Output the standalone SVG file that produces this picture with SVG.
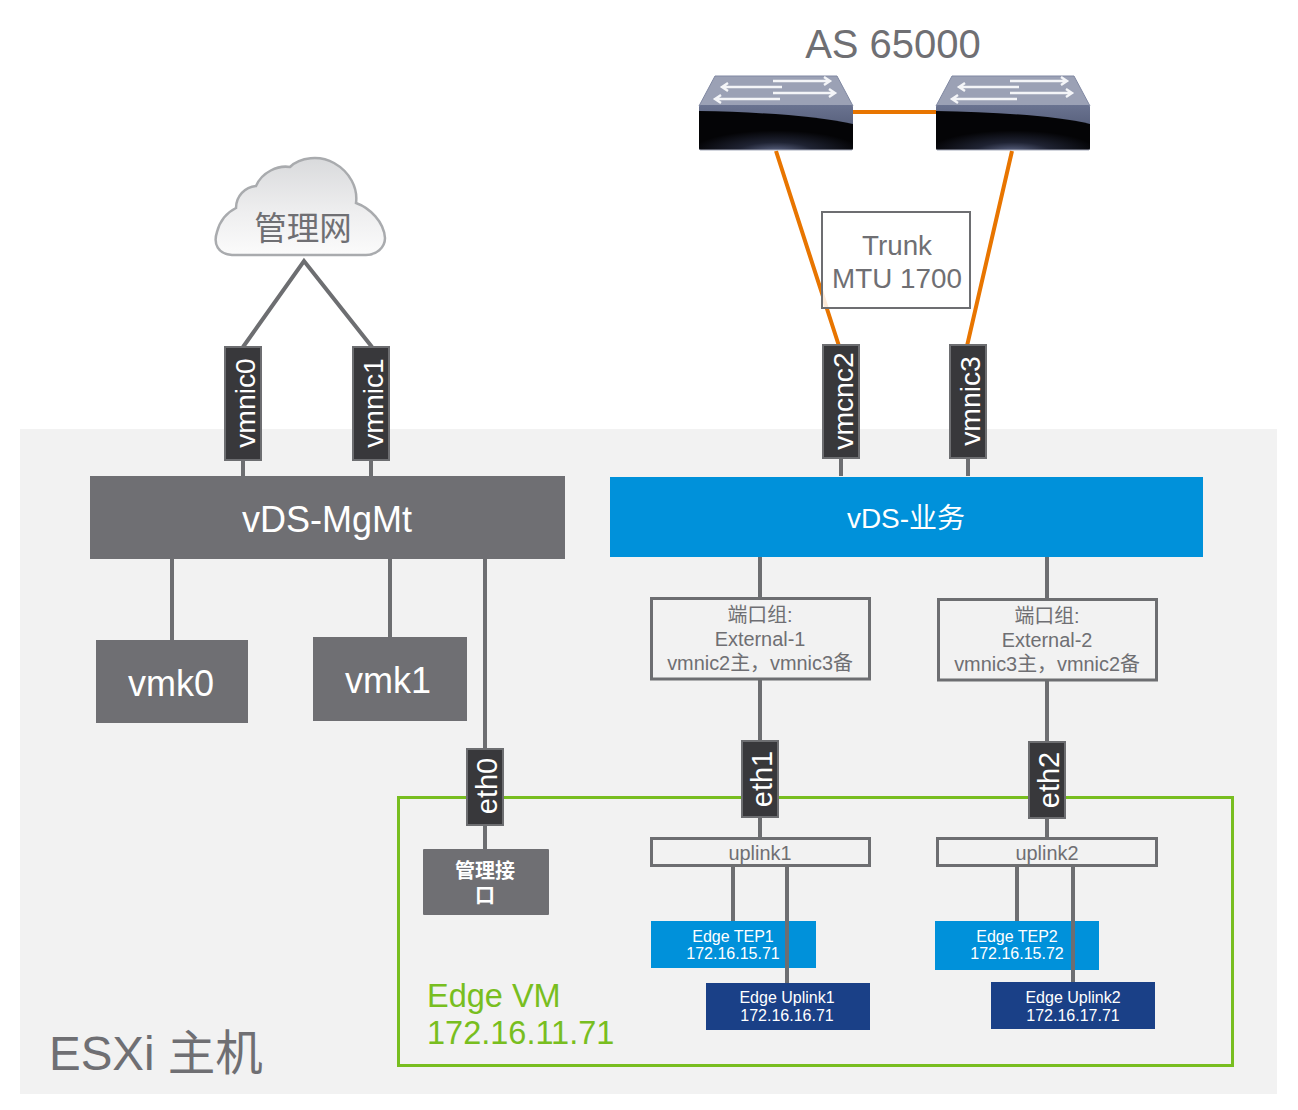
<svg xmlns="http://www.w3.org/2000/svg" width="1298" height="1110" viewBox="0 0 1298 1110">
<style>
text{font-family:"Liberation Sans","Noto Sans CJK SC",sans-serif;text-anchor:middle}
.g{fill:#6f6f73}.w{fill:#fff}
.c{stroke:#6d6e71;stroke-width:4;fill:none}
.o{stroke:#e87500;stroke-width:4;fill:none}
.pg{fill:#f2f2f2;stroke:#6d6e71;stroke-width:3}
.nic{fill:#38383b;stroke:#6d6e71;stroke-width:2}
.v{fill:#fff;font-size:28.300px}
.e{fill:#fff;font-size:29px}
.s{fill:#fff;font-size:16px}
.p{fill:#6f6f73;font-size:19.9px}
</style>
<defs>
<linearGradient id="sw" x1="0" y1="0" x2="0" y2="1"><stop offset="0" stop-color="#6a7390"/><stop offset="1" stop-color="#454d68"/></linearGradient>
<radialGradient id="glow" cx=".5" cy="1.050" r=".55"><stop offset="0" stop-color="#5f6888"/><stop offset=".45" stop-color="#1f2333"/><stop offset="1" stop-color="#040406"/></radialGradient>
<linearGradient id="cl" x1="0" y1="0" x2="0" y2="1"><stop offset="0" stop-color="#d9dadc"/><stop offset=".55" stop-color="#eeeeef"/><stop offset="1" stop-color="#fbfbfb"/></linearGradient>
<g id="switch">
<path d="M16 0H138L154 30H0Z" fill="#9ba1b5" stroke="#8088a2"/>
<rect x="0" y="29" width="154" height="45" rx="2" fill="url(#sw)"/>
<path d="M0 35C60 36 120 40 154 48V72Q154 74 152 74H2Q0 74 0 72Z" fill="url(#glow)"/>
<path d="M1 74H153" stroke="#a6abbb" stroke-width="1"/>
<path d="M74 5H131M125 1L131 5L125 9M83 11H23M29 7L23 11L29 15M74 17H136M130 13L136 17L130 21M81 23H16M22 19L16 23L22 27" fill="none" stroke="#f4f5f8" stroke-width="2.4"/>
</g>
</defs>
<rect width="1298" height="1110" fill="#fff"/>
<rect id="esxi" x="20" y="429" width="1257" height="665" fill="#f2f2f2"/>
<g id="connectors">
<path class="c" d="M243 347L304 261L372 347M243 460V476M371 460V476M841 458V476M968 458V476M172 558V640M390 558V637M485 558V750M485 824V850M760 557V598M760 680V742M760 816V838M1047 557V599M1047 681V742M1047 818V838M733 866V921M787 866V983M1017 866V921M1073 866V982"/>
<path class="o" d="M853 112H936M776 151L839 346M1012 151L967 346"/>
</g>
<text x="893" y="58" class="g" style="font-size:40px">AS 65000</text>
<g id="switch1"><use href="#switch" x="699" y="76"/></g>
<g id="switch2"><use href="#switch" x="936" y="76"/></g>
<g id="cloud">
<path d="M232 255C218 254 213 244 217 232C220 220 228 212 236 208C236 196 245 187 256 186C262 172 278 165 290 167C300 157 320 155 334 163C350 172 358 188 356 203C370 208 384 222 385 238C385 248 376 255 366 255Z" fill="url(#cl)" stroke="#a9abae" stroke-width="2.5"/>
<text x="303" y="240" class="g" style="font-size:32.500px">管理网</text>
</g>
<g id="trunk">
<rect x="822" y="212" width="148" height="96" fill="#fff" fill-opacity=".85" stroke="#6d6e71" stroke-width="2"/>
<text x="897" y="255" class="g" style="font-size:27.800px">Trunk</text>
<text x="897" y="288" class="g" style="font-size:27.800px">MTU 1700</text>
</g>
<g id="vmnic0"><rect class="nic" x="225" y="347" width="36" height="113"/><text class="v" transform="translate(255 403) rotate(-90)">vmnic0</text></g>
<g id="vmnic1"><rect class="nic" x="353" y="347" width="36" height="113"/><text class="v" transform="translate(383 403) rotate(-90)">vmnic1</text></g>
<g id="vmcnc2"><rect class="nic" x="823" y="345" width="36" height="113"/><text class="v" transform="translate(853 401) rotate(-90)">vmcnc2</text></g>
<g id="vmnic3"><rect class="nic" x="950" y="345" width="36" height="113"/><text class="v" transform="translate(980 401) rotate(-90)">vmnic3</text></g>
<g id="vds-mgmt"><rect x="90" y="476" width="475" height="83" fill="#6f6f73"/><text x="327" y="532" class="w" style="font-size:36px">vDS-MgMt</text></g>
<g id="vds-biz"><rect x="610" y="477" width="593" height="80" fill="#0091da"/><text x="906" y="528" class="w" style="font-size:28px">vDS-业务</text></g>
<g id="vmk0"><rect x="96" y="640" width="152" height="83" fill="#6f6f73"/><text x="171" y="696" class="w" style="font-size:36px">vmk0</text></g>
<g id="vmk1"><rect x="313" y="637" width="154" height="84" fill="#6f6f73"/><text x="388" y="693" class="w" style="font-size:36px">vmk1</text></g>
<g id="pg1"><rect class="pg" x="651.500" y="598.500" width="218" height="80.500"/>
<text x="760" y="622" class="p">端口组:</text><text x="760" y="646" class="p">External-1</text><text x="760" y="670" class="p">vmnic2主，vmnic3备</text></g>
<g id="pg2"><rect class="pg" x="938.500" y="599.500" width="218" height="80.500"/>
<text x="1047" y="623" class="p">端口组:</text><text x="1047" y="647" class="p">External-2</text><text x="1047" y="671" class="p">vmnic3主，vmnic2备</text></g>
<rect id="edge-vm" x="398.500" y="797.500" width="834" height="268" fill="none" stroke="#78be20" stroke-width="3"/>
<g id="eth0"><rect class="nic" x="467" y="749" width="36" height="76"/><text class="e" transform="translate(497 786) rotate(-90)">eth0</text></g>
<g id="eth1"><rect class="nic" x="742" y="741" width="36" height="76"/><text class="e" transform="translate(772 779) rotate(-90)">eth1</text></g>
<g id="eth2"><rect class="nic" x="1029" y="742" width="36" height="76"/><text class="e" transform="translate(1059 780) rotate(-90)">eth2</text></g>
<g id="mgmt-if"><rect x="423" y="849" width="126" height="66" rx="1" fill="#6f6f73"/>
<text x="485" y="878" class="w" style="font-size:20px;font-weight:bold">管理接</text><text x="485" y="903" class="w" style="font-size:20px;font-weight:bold">口</text></g>
<g id="uplink1"><rect class="pg" x="651.500" y="838.500" width="218" height="27"/><text x="760" y="860" class="p">uplink1</text></g>
<g id="uplink2"><rect class="pg" x="937.500" y="838.500" width="219" height="27"/><text x="1047" y="860" class="p">uplink2</text></g>
<g id="tep1"><rect x="651" y="921" width="165" height="47" fill="#0091da"/><text x="733" y="942" class="s">Edge TEP1</text><text x="733" y="959" class="s">172.16.15.71</text></g>
<g id="tep2"><rect x="935" y="921" width="164" height="49" fill="#0091da"/><text x="1017" y="942" class="s">Edge TEP2</text><text x="1017" y="959" class="s">172.16.15.72</text></g>
<path class="c" d="M787 921V968M1073 921V970"/>
<g id="up1"><rect x="706" y="983" width="164" height="47" fill="#1a4087"/><text x="787" y="1003" class="s">Edge Uplink1</text><text x="787" y="1021" class="s">172.16.16.71</text></g>
<g id="up2"><rect x="991" y="982" width="164" height="47" fill="#1a4087"/><text x="1073" y="1003" class="s">Edge Uplink2</text><text x="1073" y="1021" class="s">172.16.17.71</text></g>
<text x="427" y="1007" fill="#78be20" style="font-size:32.500px;text-anchor:start">Edge VM</text>
<text x="427" y="1044" fill="#78be20" style="font-size:32.500px;text-anchor:start">172.16.11.71</text>
<text x="49" y="1070" class="g" style="font-size:47.500px;text-anchor:start">ESXi 主机</text>
</svg>
